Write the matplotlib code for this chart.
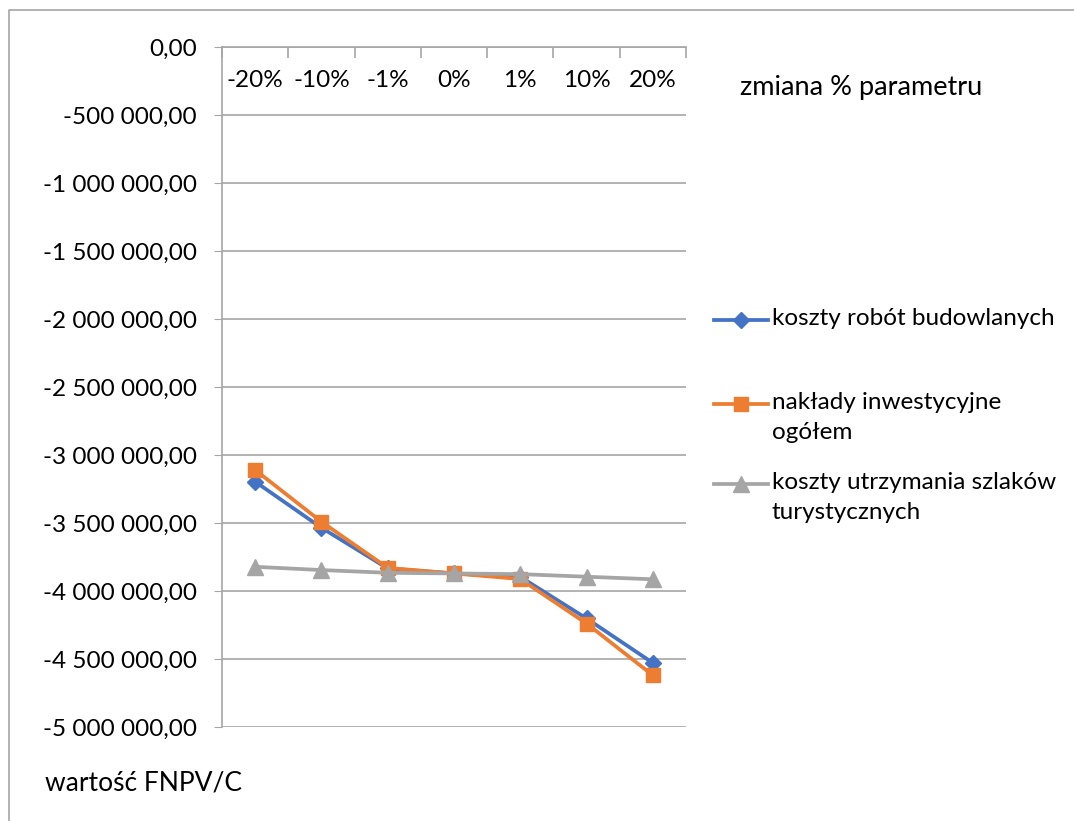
import numpy as np
import matplotlib.pyplot as plt
from matplotlib.ticker import FuncFormatter, FixedLocator
from matplotlib.lines import Line2D

plt.rcParams['font.family'] = ['Lato', 'DejaVu Sans']

# dane
kategorie = ["-20%", "-10%", "-1%", "0%", "1%", "10%", "20%"]
roboty = [-3196000, -3535000, -3834000, -3871000, -3896000, -4202000, -4529000]
naklady = [-3110000, -3491000, -3830000, -3871000, -3912000, -4239000, -4620000]
utrzymanie = [-3822000, -3846000, -3866000, -3871000, -3876000, -3895000, -3914000]
serie = ["koszty robót budowlanych", "nakłady inwestycyjne\nogółem",
         "koszty utrzymania szlaków\nturystycznych"]
kolory = ["#4472C4", "#ED7D31", "#A5A5A5"]
markery = ["D", "s", "^"]
rozm = [8.5, 10.5, 11]

W, H = 1074, 821
fig = plt.figure(figsize=(W / 100, H / 100), dpi=100)
ax = fig.add_axes([222 / W, 1 - 727 / H, (686 - 222) / W, (727 - 47) / H])

x = np.arange(len(kategorie))
for y, c, m, s in zip([roboty, naklady, utrzymanie], kolory, markery, rozm):
    ax.plot(x, y, color=c, lw=2.7, marker=m, markersize=s, zorder=3)

ax.set_xlim(-0.5, len(kategorie) - 0.5)
ax.set_ylim(-5000000, 0)
ax.set_yticks(np.arange(-5000000, 1, 500000))

def fmt(v, pos):
    s = f"{abs(v):,.2f}".replace(",", " ").replace(".", ",")
    return ("-" if v < 0 else "") + s
ax.yaxis.set_major_formatter(FuncFormatter(fmt))
ax.grid(axis="y", color="#A6A6A6", lw=1.2)
ax.set_axisbelow(True)

for sp in ["right", "bottom"]:
    ax.spines[sp].set_visible(False)
ax.spines["left"].set_color("#A6A6A6")
ax.spines["top"].set_color("#A6A6A6")
ax.spines["left"].set_linewidth(1.2)
ax.spines["top"].set_linewidth(1.2)

ax.tick_params(axis="y", length=6, color="#A6A6A6", labelsize=17.5, pad=12)

ax.xaxis.tick_top()
ax.set_xticks(x)
ax.set_xticklabels(kategorie)
ax.tick_params(axis="x", which="major", length=0, labelsize=17.5, pad=-32)
ax.xaxis.set_minor_locator(FixedLocator(np.arange(-0.5, len(kategorie), 1)))
ax.tick_params(axis="x", which="minor", direction="in", length=8, color="#A6A6A6",
               width=1.2, top=True, bottom=False)

fig.text(740 / W, 1 - 88 / H, "zmiana % parametru", fontsize=19.5, va="center")
fig.text(45 / W, 1 - 783 / H, "wartość FNPV/C", fontsize=19, va="center")

# legenda
pozycje = [320, 404, 484]
for lab, c, m, s, py in zip(serie, kolory, markery, rozm, pozycje):
    yy = 1 - py / H
    fig.add_artist(Line2D([714 / W, 768 / W], [yy, yy], color=c, lw=2.7,
                          transform=fig.transFigure))
    fig.add_artist(Line2D([741 / W], [yy], color=c, marker=m, markersize=s,
                          transform=fig.transFigure))
    fig.text(772 / W, yy + 12 / H, lab, fontsize=17.5, va="top", linespacing=1.5)

# ramka
fig.add_artist(Line2D([9 / W, 9 / W, 1.0], [0, 1 - 10 / H, 1 - 10 / H],
                      color="#A6A6A6", lw=1.2, transform=fig.transFigure))

fig.savefig("out.png", dpi=100)
